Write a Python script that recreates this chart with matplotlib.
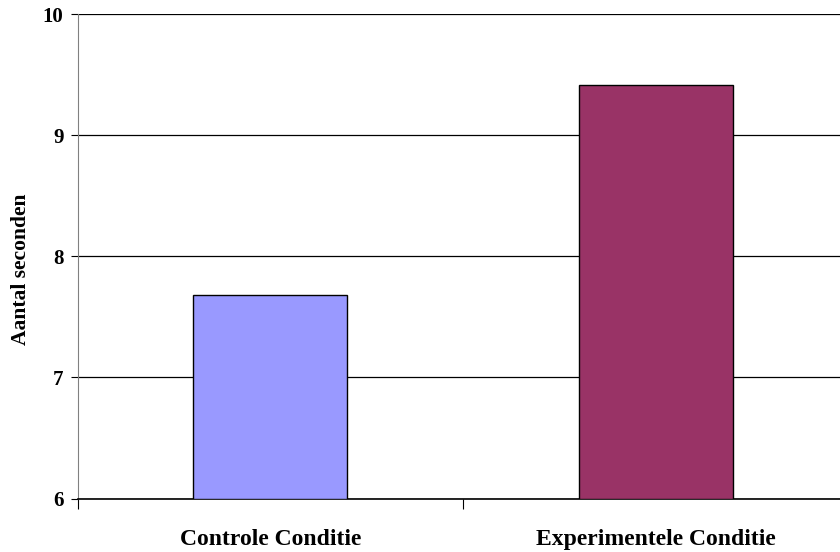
import matplotlib.pyplot as plt
import numpy as np

categories = ["Controle Conditie", "Experimentele Conditie"]
values = [7.68, 9.41]
colors = ["#9999FF", "#993366"]
y_ticks = [6, 7, 8, 9, 10]

plt.rcParams['font.family'] = ['Liberation Serif', 'DejaVu Serif']
plt.rcParams['font.weight'] = 'bold'

fig = plt.figure(figsize=(8.4, 5.52), dpi=100)
ax = fig.add_axes([77.5 / 840, 53.5 / 552, 771 / 840, 484.5 / 552])

x = np.arange(len(categories))
ax.bar(x, np.array(values) - 6, bottom=6, width=0.4, color=colors,
       edgecolor='black', linewidth=1, zorder=3)

ax.set_xlim(-0.5, 1.5)
ax.set_ylim(6, 10)
ax.set_yticks(y_ticks)
ax.set_yticklabels([str(t) for t in y_ticks], fontsize=15, fontweight='bold')
ax.yaxis.grid(True, color='black', linewidth=0.9, zorder=0)

# category labels centered, ticks between categories
ax.set_xticks(x)
ax.set_xticklabels(categories, fontsize=17, fontweight='bold')
ax.tick_params(axis='x', length=0, pad=22)
ax.set_xticks([-0.5, 0.5, 1.5], minor=True)
ax.tick_params(axis='x', which='minor', length=7, color='black', width=0.8)
ax.tick_params(axis='y', length=5, color='black', width=0.8, pad=5)

ax.set_ylabel("Aantal seconden", fontsize=15.5, fontweight='bold')
ax.yaxis.set_label_coords(-0.060, 0.473)

for side in ['top', 'right']:
    ax.spines[side].set_visible(False)
ax.spines['left'].set_color('#808080')
ax.spines['bottom'].set_color('black')
ax.spines['bottom'].set_linewidth(1.2)

fig.savefig("out.png", dpi=100)
